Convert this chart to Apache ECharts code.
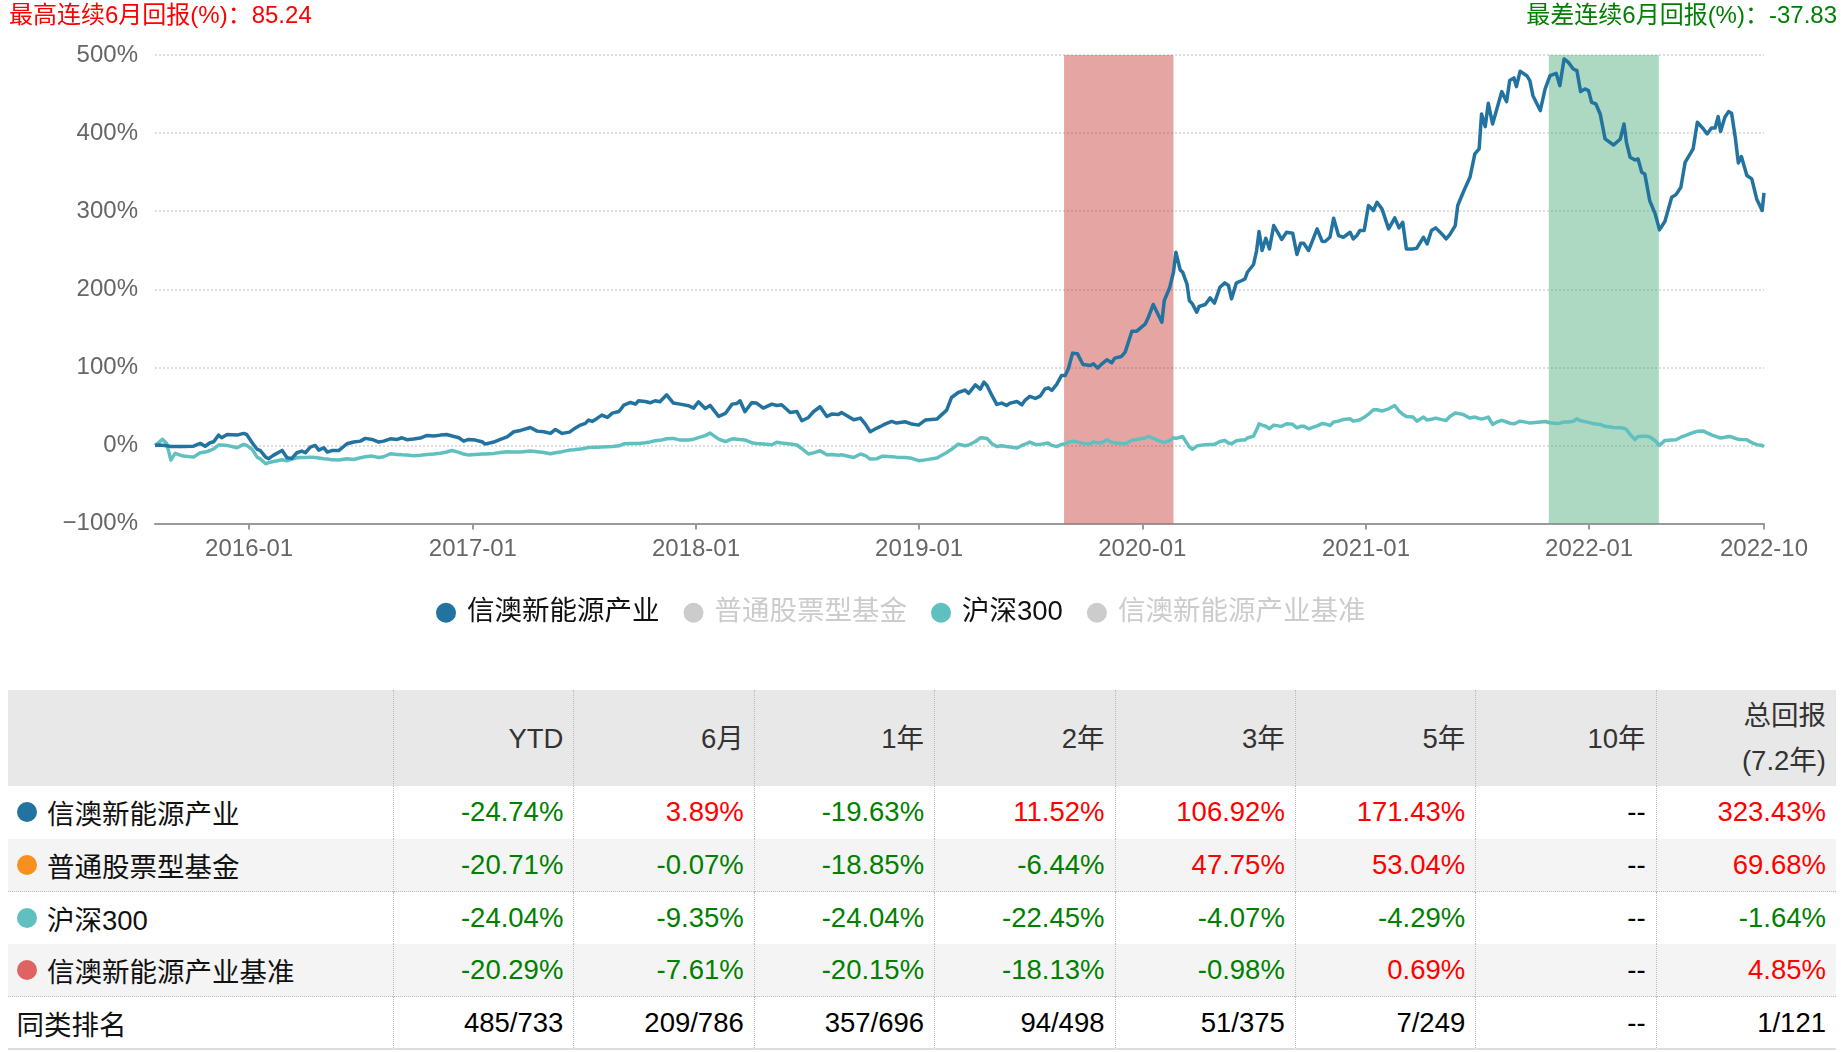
<!DOCTYPE html>
<html>
<head>
<meta charset="utf-8">
<script src="https://cdn.jsdelivr.net/npm/echarts@6.0.0/dist/echarts.min.js"></script>
<style>
  html, body { margin: 0; padding: 0; background: #fff; }
  #chart { position: absolute; left: 0; top: 0; width: 1844px; height: 680px; }
  #table {
    position: absolute; left: 8px; top: 690px; width: 1828px;
    display: grid;
    grid-template-columns: 385px repeat(8, 1fr);
    grid-template-rows: 96px repeat(5, 52.8px);
    font-family: "Helvetica Neue", Helvetica, Arial, "Liberation Sans", "Noto Sans CJK SC", sans-serif;
    font-size: 27.5px;
  }
  .cell {
    box-sizing: border-box;
    display: flex; align-items: center; justify-content: flex-end;
    padding-right: 10px;
    border-left: 1px dotted #bbb;
    white-space: nowrap;
  }
  .cell.name { justify-content: flex-start; border-left: none; padding-left: 8.5px; padding-right: 0; color: #111; }
  .cell.head { color: #333; background: #e8e8e8; white-space: pre-line; text-align: right; line-height: 45px; }
  .cell.alt { background: #f4f4f4; }
  .cell.sep { border-bottom: 1px dotted #bbb; }
  .cell.last { border-bottom: 2px solid #ddd; }
  .dot { display: inline-block; width: 20px; height: 20px; border-radius: 50%; margin-right: 10.5px; }
</style>
</head>
<body>
<div id="chart"></div>
<div id="table"></div>
<script>
// ---------------- data ----------------
const bestSixMonthReturn = '85.24';
const worstSixMonthReturn = '-37.83';

const seriesNames = ['信澳新能源产业', '普通股票型基金', '沪深300', '信澳新能源产业基准'];

const dates = [
  '2015-07-31','2015-08-05','2015-08-12','2015-08-19','2015-08-26','2015-09-02','2015-09-15','2015-10-02','2015-10-13','2015-10-21',
  '2015-10-29','2015-11-04','2015-11-12','2015-11-17','2015-11-26','2015-12-12','2015-12-23','2015-12-28','2016-01-06','2016-01-14',
  '2016-01-19','2016-01-28','2016-02-02','2016-02-10','2016-02-24','2016-03-03','2016-03-11','2016-03-19','2016-03-27','2016-04-02',
  '2016-04-10','2016-04-18','2016-04-24','2016-05-02','2016-05-08','2016-05-16','2016-05-27','2016-06-09','2016-06-20','2016-07-01',
  '2016-07-09','2016-07-20','2016-07-31','2016-08-08','2016-08-19','2016-08-30','2016-09-07','2016-09-15','2016-09-26','2016-10-07',
  '2016-10-18','2016-10-29','2016-11-09','2016-11-19','2016-11-28','2016-12-09','2016-12-17','2016-12-25','2017-01-05','2017-01-16',
  '2017-01-21','2017-02-04','2017-02-15','2017-02-26','2017-03-09','2017-03-20','2017-04-05','2017-04-16','2017-04-27','2017-05-08',
  '2017-05-16','2017-05-27','2017-06-08','2017-06-15','2017-06-26','2017-07-04','2017-07-09','2017-07-15','2017-07-23','2017-07-31',
  '2017-08-09','2017-08-17','2017-08-28','2017-09-05','2017-09-16','2017-09-24','2017-09-29','2017-10-10','2017-10-18','2017-10-26',
  '2017-11-03','2017-11-14','2017-11-25','2017-12-06','2017-12-20','2017-12-28','2018-01-05','2018-01-16','2018-01-24','2018-02-07',
  '2018-02-18','2018-03-01','2018-03-09','2018-03-14','2018-03-22','2018-04-02','2018-04-10','2018-04-21','2018-05-05','2018-05-13',
  '2018-05-21','2018-06-04','2018-06-15','2018-06-23','2018-07-04','2018-07-12','2018-07-23','2018-08-03','2018-08-11','2018-08-22',
  '2018-08-27','2018-09-05','2018-09-16','2018-09-27','2018-10-05','2018-10-13','2018-10-24','2018-11-01','2018-11-06','2018-11-17',
  '2018-11-25','2018-12-09','2018-12-20','2018-12-31','2019-01-11','2019-01-30','2019-02-15','2019-02-23','2019-03-06','2019-03-17',
  '2019-03-23','2019-04-03','2019-04-11','2019-04-17','2019-04-22','2019-04-30','2019-05-08','2019-05-16','2019-05-24','2019-05-30',
  '2019-06-10','2019-06-18','2019-06-23','2019-07-01','2019-07-10','2019-07-18','2019-07-26','2019-07-31','2019-08-06','2019-08-14',
  '2019-08-22','2019-08-28','2019-09-02','2019-09-09','2019-09-17','2019-09-26','2019-10-08','2019-10-13','2019-10-20','2019-10-27',
  '2019-11-04','2019-11-12','2019-11-17','2019-11-28','2019-12-04','2019-12-15','2019-12-23','2020-01-06','2020-01-11','2020-01-19',
  '2020-02-02','2020-02-06','2020-02-15','2020-02-21','2020-02-25','2020-03-03','2020-03-07','2020-03-14','2020-03-18','2020-03-23',
  '2020-03-30','2020-04-03','2020-04-13','2020-04-21','2020-04-28','2020-05-07','2020-05-15','2020-05-21','2020-05-26','2020-06-03',
  '2020-06-12','2020-06-17','2020-06-21','2020-07-01','2020-07-06','2020-07-10','2020-07-15','2020-07-21','2020-07-27','2020-08-03',
  '2020-08-11','2020-08-16','2020-08-24','2020-09-03','2020-09-10','2020-09-16','2020-09-21','2020-09-29','2020-10-13','2020-10-21',
  '2020-10-26','2020-11-03','2020-11-09','2020-11-17','2020-11-25','2020-12-06','2020-12-11','2020-12-17','2020-12-22','2020-12-29',
  '2021-01-05','2021-01-13','2021-01-19','2021-01-27','2021-02-07','2021-02-17','2021-02-24','2021-03-02','2021-03-08','2021-03-19',
  '2021-03-25','2021-04-05','2021-04-11','2021-04-18','2021-04-25','2021-05-05','2021-05-12','2021-05-18','2021-05-27','2021-05-31',
  '2021-06-09','2021-06-20','2021-06-28','2021-07-05','2021-07-09','2021-07-15','2021-07-20','2021-07-27','2021-08-03','2021-08-11',
  '2021-08-19','2021-08-24','2021-08-31','2021-09-04','2021-09-10','2021-09-21','2021-09-26','2021-10-01','2021-10-13','2021-10-21',
  '2021-10-29','2021-11-08','2021-11-14','2021-11-21','2021-11-28','2021-12-06','2021-12-12','2021-12-18','2021-12-25','2021-12-31',
  '2022-01-05','2022-01-12','2022-01-19','2022-01-27','2022-02-10','2022-02-21','2022-02-27','2022-03-03','2022-03-09','2022-03-17',
  '2022-03-22','2022-03-28','2022-04-02','2022-04-10','2022-04-19','2022-04-26','2022-05-05','2022-05-16','2022-05-23','2022-05-31',
  '2022-06-07','2022-06-20','2022-06-27','2022-07-07','2022-07-13','2022-07-20','2022-07-26','2022-07-31','2022-08-04','2022-08-11',
  '2022-08-17','2022-08-22','2022-08-28','2022-09-02','2022-09-07','2022-09-16','2022-09-24','2022-10-02','2022-10-11','2022-10-14'
];

// 信澳新能源产业 cumulative return (%)
const fundReturns = [
  0, 0.5, 0.3, -0.5, -1.3, -1.3, -1.3, -1, 2.6, -1,
  3.4, 4.7, 13.2, 9.8, 14, 13.2, 15.4, 14, 3.4, -5,
  -6.4, -15, -17, -12.4, -6.4, -15.8, -16.6, -9.4, -7.3, -9.4,
  -2.1, 0, -6, -3, -8.5, -6.4, -6.4, 2.1, 4.3, 5.5,
  9, 7.7, 4.3, 5.5, 8.5, 7.7, 9.8, 7.3, 8.1, 9.4,
  12.8, 12, 13.2, 14, 12, 9.8, 5.5, 7.7, 6.8, 4.7,
  1.7, 4.3, 7.7, 11, 17.5, 19.2, 23, 18.3, 17.5, 15.4,
  20.5, 15.4, 17, 20.9, 26, 28.2, 32.4, 30.7, 34.6, 38.8,
  35.8, 41.4, 43.5, 51.6, 55, 52.9, 57.2, 56.3, 54.6, 57.2,
  55.9, 64.8, 54.2, 52.9, 50.8, 47.8, 55.9, 47.4, 51.2, 37.1,
  41, 52.9, 53.8, 57.2, 43.1, 54.6, 54.2, 47.8, 52.9, 51.2,
  52, 42.2, 43.5, 31.6, 35.8, 43.1, 49.5, 37.1, 40.1, 39.7,
  42.2, 38, 32.8, 35, 27.3, 17.5, 22.2, 25.2, 27.3, 30.7,
  28.6, 30.3, 27.3, 26, 32.4, 33.7, 45.2, 61.4, 67.8, 70.8,
  66.6, 77.6, 72.1, 81, 76.8, 64, 52.5, 54.2, 51.2, 54.2,
  56.3, 52, 57.6, 62.7, 60.2, 63.1, 72.5, 73.8, 70.4, 78.1,
  89.6, 89.6, 98.1, 118.2, 117.3, 103.7, 102.4, 104.5, 99, 104.5,
  109.6, 105.8, 111.8, 113.9, 119.5, 146.3, 146.3, 155.7, 164.2, 180.5,
  157.8, 185.6, 202.6, 221.8, 247.4, 224.8, 221.8, 206.9, 185.6, 181.3,
  170.6, 177.9, 180.5, 189, 182.2, 202.6, 208.2, 204.8, 187.7, 208.2,
  211.2, 213.3, 221.8, 231.7, 249.6, 273.9, 249.6, 265.4, 251.7, 281.6,
  270.9, 263.7, 273, 271.8, 244.5, 259, 259, 249.6, 277.3, 261.5,
  261.1, 266.6, 291, 268.8, 266.6, 273, 264.5, 268.8, 275.2, 275.2,
  307.2, 300.8, 311.4, 302.9, 277.3, 291.4, 278.6, 285.8, 251.7, 251.7,
  252.6, 266.6, 258.1, 275.2, 278.6, 270.9, 264.5, 270, 281.6, 307.2,
  324.2, 343.4, 373.3, 379.7, 424.5, 408.3, 438.1, 411.7, 430.9, 453.1,
  440.3, 467.2, 470.6, 459.5, 479.1, 473.5, 467.2, 447.9, 428.8, 456.5,
  473.5, 476.5, 460.8, 494.9, 490.6, 482.1, 479.9, 453.1, 456.5, 454.4,
  439.4, 437.3, 424.5, 392.5, 384.8, 392.5, 411.7, 388.2, 369, 365.6,
  366.9, 349.8, 347.7, 313.6, 296.5, 276, 287.1, 317.8, 321.2, 330.6,
  362.6, 379.7, 413.8, 405.3, 398.9, 406.6, 406.6, 421.1, 401.9, 420.2,
  427.5, 425.3, 394.6, 361.8, 369.9, 345.6, 341.3, 315.7, 300.8, 323.43
];

// 沪深300 cumulative return (%)
const hs300Returns = [
  0, 3, 7.7, 2.6, -18.8, -10.2, -13.7, -15, -9.4, -8.5,
  -6.5, -4.3, 0.4, 0.5, 0, -3, 1.3, 0, -5, -15,
  -17, -23.5, -22, -20.5, -18.3, -19.6, -17.5, -15.8, -15.5, -15.5,
  -15, -15.5, -16, -17, -17.5, -18.5, -18.8, -17, -18, -15.8,
  -14.5, -13.7, -15.5, -14.5, -10.7, -11.5, -12, -12.3, -13.2, -12.5,
  -11.5, -11, -10, -8.5, -6.5, -9, -11.1, -12.4, -11.5, -11,
  -11, -10.2, -9, -8.1, -8.3, -8.5, -7.3, -8, -9, -10.7,
  -9.5, -8, -6, -5.5, -4.5, -3.5, -2.6, -2.5, -2.2, -2,
  -1.7, -1.5, -0.5, 2.1, 2.6, 2.6, 2.6, 3.5, 4.5, 6,
  6.5, 8.5, 9, 6.8, 7, 8, 10, 12.5, 15.8, 8,
  5, 8.5, 8, 7.5, 7, 3.5, 2.5, 1.7, 0.9, 4,
  3, 1.7, 0.5, -4, -11, -9.5, -6.8, -12, -11.5, -12.5,
  -12, -13.5, -15.5, -11, -13, -17.5, -17, -14, -14, -14.5,
  -15, -15.4, -16.5, -19.6, -18.5, -16, -9, -5, 1.7, -0.4,
  0.5, 5, 9.8, 9.5, 9, 2.1, -1.3, -0.4, -1.5, -2.1,
  -3.4, 0, 1.5, 4.3, 1.3, 1.3, 2.5, 3, 0, -1.5,
  1.3, 2, 4, 5.5, 4.5, 2.5, 2.1, 4.3, 3.5, 3.5,
  7.3, 4, 3, 2.5, 2.1, 6.5, 7.5, 9.4, 11.5, 9,
  4.5, 3.8, 6, 9.8, 9, 10.5, 11.5, 3, -2, -5,
  -0.9, 0, 1, 1.3, 1.3, 5, 6.4, 3, 2.1, 6,
  7, 7, 9.5, 12, 20, 27.7, 26, 24.5, 21.3, 26,
  25, 24.5, 27.7, 27, 22.6, 24.5, 24.7, 21.3, 25, 28,
  27.5, 25.5, 30, 31.1, 33.3, 34.1, 31.1, 32, 32.8, 36,
  40, 45.6, 45.6, 44, 46.9, 51.2, 44, 40, 37, 36.3,
  31.1, 36.3, 32.5, 33.5, 35, 33, 32, 37, 41.4, 41,
  39.5, 35, 36.3, 34.5, 33.7, 35, 36.3, 26.9, 30, 32,
  30, 28.5, 27.7, 29, 31.1, 29.5, 28.6, 29, 30, 30.7,
  29, 28, 28.5, 29.9, 30, 31, 34.1, 31.5, 30.5, 29.5,
  28.5, 27.5, 26.9, 24.5, 23, 22.6, 22, 20.5, 14, 7.5,
  11.5, 11.8, 11.9, 11, 6, 0, 6.4, 7, 7.3, 10.5,
  12.5, 16.5, 18, 18.5, 16, 13.5, 12, 10.5, 9.5, 10.5,
  11.5, 11, 9, 7.7, 7.5, 7.3, 3.5, 1, 0, -1.64
];

// highlighted periods: best and worst consecutive 6 months
const bestPeriod = ['2019-08-26', '2020-02-21'];
const worstPeriod = ['2021-10-27', '2022-04-25'];

const axisStart = '2015-07-31';
const axisEnd = '2022-10-14';
const xTickDates = ['2016-01-01','2017-01-01','2018-01-01','2019-01-01','2020-01-01','2021-01-01','2022-01-01','2022-10-14'];
const yMin = -100, yMax = 500, yStep = 100;

// table
const tableHeaders = ['YTD', '6月', '1年', '2年', '3年', '5年', '10年', '总回报\n(7.2年)'];
const tableRowNames = ['信澳新能源产业', '普通股票型基金', '沪深300', '信澳新能源产业基准'];
const fundRow = ['-24.74%', '3.89%', '-19.63%', '11.52%', '106.92%', '171.43%', '--', '323.43%'];
const categoryRow = ['-20.71%', '-0.07%', '-18.85%', '-6.44%', '47.75%', '53.04%', '--', '69.68%'];
const hs300Row = ['-24.04%', '-9.35%', '-24.04%', '-22.45%', '-4.07%', '-4.29%', '--', '-1.64%'];
const benchmarkRow = ['-20.29%', '-7.61%', '-20.15%', '-18.13%', '-0.98%', '0.69%', '--', '4.85%'];
const rankLabel = '同类排名';
const rankRow = ['485/733', '209/786', '357/696', '94/498', '51/375', '7/249', '--', '1/121'];

const FONT = '"Helvetica Neue", Helvetica, Arial, "Liberation Sans", "Noto Sans CJK SC", sans-serif';
const COLORS = ['#22739f', '#f7901e', '#60c0c0', '#e06363'];

// ---------------- table ----------------
const table = document.getElementById('table');
function addCell(text, cls, color) {
  const d = document.createElement('div');
  d.className = 'cell ' + cls;
  d.textContent = text;
  if (color) d.style.color = color;
  table.appendChild(d);
  return d;
}
function valueColor(v) {
  if (v === '--') return '#000';
  return v.trim().startsWith('-') ? '#008000' : '#ff0000';
}
addCell('', 'name head');
tableHeaders.forEach(h => addCell(h, 'head'));
const rows = [fundRow, categoryRow, hs300Row, benchmarkRow];
rows.forEach((row, r) => {
  let cls = '';
  if (r % 2 === 1) cls += ' alt';
  if (r === 1 || r === 3) cls += ' sep';
  const nameCell = addCell('', 'name' + cls);
  const dot = document.createElement('span');
  dot.className = 'dot';
  dot.style.background = COLORS[r];
  nameCell.appendChild(dot);
  nameCell.appendChild(document.createTextNode(tableRowNames[r]));
  row.forEach(v => addCell(v, cls, valueColor(v)));
});
addCell(rankLabel, 'name last');
rankRow.forEach(v => addCell(v, 'last', '#000'));

// ---------------- chart ----------------
const ts = s => echarts.number.parseDate(s).getTime();
const n = Math.min(dates.length, fundReturns.length, hs300Returns.length);
const fundData = [], hsData = [];
for (let i = 0; i < n; i++) {
  fundData.push([ts(dates[i]), fundReturns[i]]);
  hsData.push([ts(dates[i]), hs300Returns[i]]);
}
const tickVals = xTickDates.map(ts);

const chart = echarts.init(document.getElementById('chart'));
chart.setOption({
  animation: false,
  title: [
    { text: '最高连续6月回报(%)：' + bestSixMonthReturn, left: 9, top: 4, padding: 0,
      textStyle: { color: '#ff0000', fontSize: 24, fontWeight: 'normal', fontFamily: FONT } },
    { text: '最差连续6月回报(%)：' + worstSixMonthReturn, right: 7, top: 4, padding: 0,
      textStyle: { color: '#008000', fontSize: 24, fontWeight: 'normal', fontFamily: FONT } }
  ],
  legend: {
    data: seriesNames,
    left: 431, top: 594,
    icon: 'circle', itemWidth: 20, itemHeight: 20, itemGap: 24,
    inactiveColor: '#ccc',
    selected: { '普通股票型基金': false, '信澳新能源产业基准': false },
    textStyle: { fontSize: 27.5, color: '#111', fontFamily: FONT, padding: [0, 0, 0, 6] }
  },
  grid: { left: 155, top: 55, width: 1609, height: 468.5 },
  xAxis: {
    type: 'value',
    min: ts(axisStart), max: ts(axisEnd),
    axisLine: { onZero: false, lineStyle: { color: '#999', width: 2 } },
    axisTick: { show: true, customValues: tickVals, length: 6, lineStyle: { color: '#999', width: 2 } },
    axisLabel: {
      customValues: tickVals,
      formatter: v => echarts.time.format(v, '{yyyy}-{MM}', false),
      color: '#666', fontSize: 24, margin: 14, fontFamily: FONT, hideOverlap: false,
      showMinLabel: true, showMaxLabel: true
    },
    splitLine: { show: false }
  },
  yAxis: {
    type: 'value', min: yMin, max: yMax, interval: yStep,
    axisLine: { show: false }, axisTick: { show: false },
    axisLabel: {
      formatter: v => (v < 0 ? '\u2212' : '') + Math.abs(v) + '%',
      color: '#666', fontSize: 24, margin: 17, fontFamily: FONT
    },
    splitLine: { lineStyle: { type: [2, 2], color: '#dedede', width: 2 } }
  },
  series: [
    {
      name: 'periods', type: 'line', data: [], z: 1, silent: true,
      markArea: {
        silent: true,
        data: [
          [{ xAxis: ts(bestPeriod[0]), itemStyle: { color: 'rgba(197,57,51,0.45)' } }, { xAxis: ts(bestPeriod[1]) }],
          [{ xAxis: ts(worstPeriod[0]), itemStyle: { color: 'rgba(73,168,117,0.45)' } }, { xAxis: ts(worstPeriod[1]) }]
        ]
      }
    },
    { name: seriesNames[0], type: 'line', data: fundData, showSymbol: false, z: 3,
      color: COLORS[0], lineStyle: { width: 3.5, color: COLORS[0], join: 'round' } },
    { name: seriesNames[1], type: 'line', data: [], showSymbol: false, color: COLORS[1] },
    { name: seriesNames[2], type: 'line', data: hsData, showSymbol: false, z: 2,
      color: COLORS[2], lineStyle: { width: 3.5, color: COLORS[2], join: 'round' } },
    { name: seriesNames[3], type: 'line', data: [], showSymbol: false, color: COLORS[3] }
  ]
});
</script>
</body>
</html>
